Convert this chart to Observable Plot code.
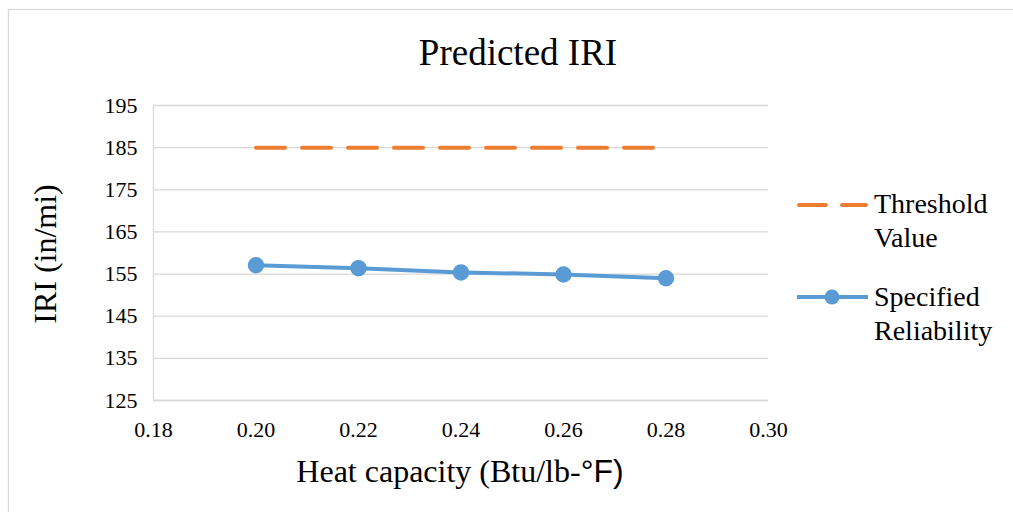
<!DOCTYPE html>
<html>
<head>
<meta charset="utf-8">
<script src="https://cdn.jsdelivr.net/npm/d3@7"></script>
<script src="https://cdn.jsdelivr.net/npm/@observablehq/plot@0.6"></script>
<style>
  html, body { margin: 0; padding: 0; background: #fff; }
  #chart { position: relative; width: 1013px; height: 512px; overflow: hidden; }
  #chart svg text { font-family: "Liberation Serif", "Times New Roman", serif; fill: #000; }
  #chart svg tspan.sans { font-family: "Liberation Sans", Arial, sans-serif; }
</style>
</head>
<body>
<div id="chart"></div>
<script>
const heatCapacity = [0.20, 0.22, 0.24, 0.26, 0.28];
const specifiedReliability = [157.1, 156.4, 155.4, 154.9, 154.0];
const thresholdValue = [185, 185, 185, 185, 185];
const xTicks = [0.18, 0.20, 0.22, 0.24, 0.26, 0.28, 0.30];
const yTicks = [125, 135, 145, 155, 165, 175, 185, 195];
const seriesNames = ["Threshold Value", "Specified Reliability"];
const titleText = "Predicted IRI";
const xTitle = ["Heat capacity (Btu/lb-", "°F)"];
const yTitle = "IRI (in/mi)";

const relData = heatCapacity.map((x, i) => ({x, y: specifiedReliability[i]}));
const thrData = heatCapacity.map((x, i) => ({x, y: thresholdValue[i]}));

const blue = "#5b9bd5", orange = "#ed7d31", grid = "#d9d9d9";
const W = 1013, H = 512;
const fmt = d3.format(".2f");

const plot = Plot.plot({
  width: W,
  height: H,
  marginLeft: 153,
  marginRight: 245,
  marginTop: 105,
  marginBottom: 112,
  style: {fontFamily: "'Liberation Serif', serif", background: "transparent", overflow: "visible", color: "#000"},
  x: {domain: [0.18, 0.30], label: null},
  y: {domain: [125, 195], label: null},
  marks: [
    Plot.gridY(yTicks, {stroke: grid, strokeOpacity: 1, strokeWidth: 1.3}),
    Plot.ruleX([0.18], {stroke: grid, strokeWidth: 1.3}),
    Plot.ruleY([125], {stroke: grid, strokeWidth: 1.3}),
    Plot.axisY(yTicks, {tickSize: 0, tickPadding: 16, fontSize: 22, label: null}),
    Plot.axisX(xTicks, {tickSize: 0, tickPadding: 21, fontSize: 22, label: null, tickFormat: fmt}),
    Plot.line(thrData, {x: "x", y: "y", stroke: orange, strokeWidth: 4, strokeDasharray: "29,17", strokeLinecap: "round"}),
    Plot.line(relData, {x: "x", y: "y", stroke: blue, strokeWidth: 4}),
    Plot.dot(relData, {x: "x", y: "y", r: 7.5, fill: blue, stroke: blue})
  ]
});

document.getElementById("chart").appendChild(plot);
const svg = d3.select(plot);

// outer chart border
svg.insert("rect", ":first-child")
  .attr("x", 8.5).attr("y", 9.5).attr("width", 1020).attr("height", 520)
  .attr("fill", "none").attr("stroke", grid).attr("stroke-width", 1.3);

// title
svg.append("text").attr("x", 518).attr("y", 65).attr("text-anchor", "middle")
  .attr("font-size", 37).text(titleText);

// axis titles
const xt = svg.append("text").attr("x", 460).attr("y", 482).attr("text-anchor", "middle").attr("font-size", 32);
xt.append("tspan").text(xTitle[0]);
xt.append("tspan").attr("class", "sans").text(xTitle[1]);
svg.append("text").attr("transform", "translate(56,254) rotate(-90)").attr("text-anchor", "middle")
  .attr("font-size", 32).text(yTitle);

// legend
const lg = svg.append("g").attr("text-anchor", "start");
lg.append("line").attr("x1", 799).attr("x2", 866).attr("y1", 205).attr("y2", 205)
  .attr("stroke", orange).attr("stroke-width", 4).attr("stroke-dasharray", "27,16").attr("stroke-linecap", "round");
lg.append("line").attr("x1", 797).attr("x2", 868).attr("y1", 297).attr("y2", 297)
  .attr("stroke", blue).attr("stroke-width", 4);
lg.append("circle").attr("cx", 832).attr("cy", 297).attr("r", 7.5).attr("fill", blue);
const legendLines = [["Threshold", 213], ["Value", 247], ["Specified", 306], ["Reliability", 339.5]];
legendLines.forEach(([t, y]) => {
  lg.append("text").attr("x", 874).attr("y", y).attr("text-anchor", "start").attr("font-size", 28).text(t);
});
</script>
</body>
</html>
